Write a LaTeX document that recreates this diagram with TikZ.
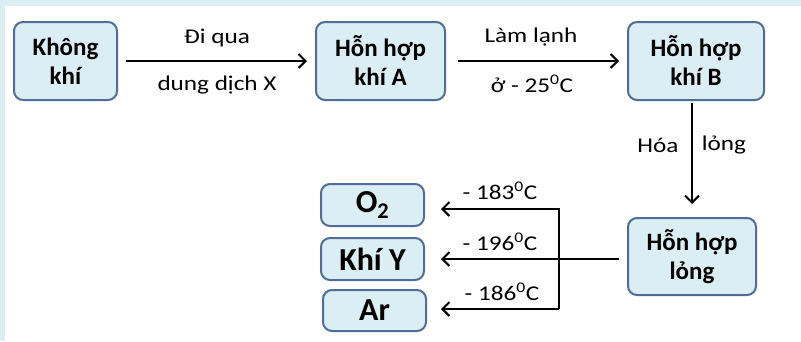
\documentclass[tikz,border=0pt]{standalone}
\usepackage{fontspec}
\setmainfont{Carlito}
\newfontfamily\labelfont[FakeStretch=1.2]{Carlito}
\usetikzlibrary{arrows.meta}
\definecolor{boxfill}{HTML}{DBEEF4}
\definecolor{boxline}{HTML}{4F6D99}
\definecolor{framefill}{HTML}{DAEEF3}
\begin{document}
\begin{tikzpicture}[x=1pt,y=-1pt,
  box/.style={draw=boxline, fill=boxfill, line width=2pt, rounded corners=9pt,
    inner sep=0pt, align=center, font=\fontsize{25}{29}\selectfont\bfseries},
  smallbox/.style={box, font=\fontsize{32}{36}\selectfont\bfseries},
  flow/.style={line width=2pt, -{Straight Barb[length=7pt,width=14pt,line width=2pt]}},
  lab/.style={font=\labelfont\fontsize{21}{25}\selectfont, inner sep=0pt}]
\useasboundingbox (0,0) rectangle (801,341);
% pale frame strips along the top and left edge
\fill[framefill] (0,0) rectangle (801,6);
\fill[framefill] (0,0) rectangle (5,341);

% process boxes
\node[box, minimum width=103pt, minimum height=78pt] (kk) at (65.5,61) {Không\\khí};
\node[box, minimum width=129pt, minimum height=78pt] (ha) at (380.5,61) {Hỗn hợp\\khí A};
\node[box, minimum width=136pt, minimum height=78pt] (hb) at (696,61) {Hỗn hợp\\khí B};
\node[box, minimum width=128pt, minimum height=77pt] (hl) at (692,256.5) {Hỗn hợp\\lỏng};

% products
\node[smallbox, minimum width=103pt, minimum height=42pt] (o2) at (372.5,205) {O\textsubscript{2}};
\node[smallbox, minimum width=103pt, minimum height=42pt] (ky) at (372.5,259) {Khí Y};
\node[smallbox, minimum width=103pt, minimum height=41pt] (ar) at (374.5,310.5) {Ar};

% main flow
\draw[flow, shorten <=8pt, shorten >=8pt] (kk) -- (ha);
\draw[flow, shorten <=12pt, shorten >=8pt] (ha) -- (hb);
\draw[flow, shorten <=2pt, shorten >=13pt] (hb.south -| hl.north) -- (hl.north);

% fractional distillation
\coordinate (jt) at (559,209);
\coordinate (jb) at (559,309);
\draw[flow, shorten <=8pt, shorten >=16pt] (hl.west |- ky.east) -- (ky.east);
\draw[flow, shorten >=16pt] (jb) -- (jt) -- (o2.east |- jt);
\draw[flow, shorten >=14pt] (jb) -- (ar.east |- jb);

% labels
\node[lab] (t1) at (217,38) {Đi qua};
\node[lab] (t2) at (217,85) {dung dịch X};
\node[lab] (t3) at (531,37) {Làm lạnh};
\node[lab] (t4) at (532,84) {ở - 25\textsuperscript{0}C};
\node[lab] (t5) at (658,145) {Hóa};
\node[lab] (t6) at (724,145) {lỏng};
\node[lab] (t7) at (500,191) {- 183\textsuperscript{0}C};
\node[lab] (t8) at (500,242) {- 196\textsuperscript{0}C};
\node[lab] (t9) at (502,292) {- 186\textsuperscript{0}C};
\end{tikzpicture}
\end{document}
